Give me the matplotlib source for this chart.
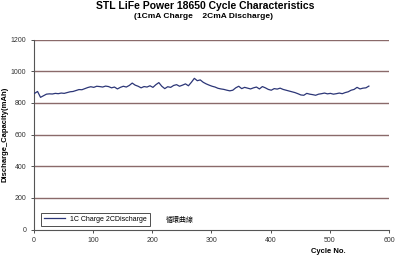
import numpy as np
import matplotlib
matplotlib.use("Agg")
import matplotlib.pyplot as plt

plt.rcParams['font.family'] = ['Liberation Sans', 'Noto Sans CJK TC', 'DejaVu Sans']

# discharge capacity (mAh), one reading every 5 cycles
capacity = [
    860, 872, 835, 845, 855, 857, 856, 860, 858, 862,
    860, 865, 870, 872, 878, 884, 883, 890, 897, 902,
    898, 905, 903, 900, 906, 903, 895, 900, 888, 898,
    905, 900, 910, 925, 912, 905, 895, 903, 900, 908,
    898, 915, 928, 905, 890, 902, 898, 910, 915, 905,
    912, 920, 908, 930, 955, 940, 945, 930, 920, 912,
    905, 900, 892, 888, 885, 880, 876, 880, 895, 905,
    890, 898, 893, 888, 895, 900, 888, 903, 895, 885,
    880, 890, 887, 893, 885, 880, 875, 870, 865, 858,
    850, 848, 860, 855, 852, 848, 855, 858, 862, 857,
    860, 855, 858, 862, 858, 865, 870, 880, 885, 898,
    888, 893, 895, 906,
]
cycles = np.arange(len(capacity)) * 5 + 1

y_ticks = [0, 200, 400, 600, 800, 1000, 1200]
x_ticks = [0, 100, 200, 300, 400, 500, 600]

fig = plt.figure(figsize=(4, 2.56), dpi=100)
ax = fig.add_axes([0.085, 0.1035, 0.8875, 0.742])

for v in y_ticks[1:]:
    ax.axhline(v, color='#8a6a6a', lw=1.0, zorder=1)

ax.plot(cycles, capacity, color='#2c3677', lw=0.9, zorder=3,
        label='1C Charge 2CDischarge')

ax.set_xlim(0, 600)
ax.set_ylim(0, 1200)
ax.set_xticks(x_ticks)
ax.set_yticks(y_ticks)
ax.tick_params(labelsize=5, length=2, width=0.6, colors='#333333')
for s in ['top', 'right']:
    ax.spines[s].set_visible(False)
for s in ['left', 'bottom']:
    ax.spines[s].set_color('#555555')
    ax.spines[s].set_linewidth(0.8)

ax.set_ylabel('Discharge_Capacity(mAh)', fontsize=5.5, fontweight='bold')
ax.yaxis.set_label_coords(-0.072, 0.5)
ax.text(0.83, -0.1, 'Cycle No.', transform=ax.transAxes, fontsize=5.5,
        fontweight='bold', ha='center', va='top')

leg = ax.legend(loc='lower left', bbox_to_anchor=(0.02, 0.02), fontsize=5,
                frameon=True, fancybox=False, edgecolor='#222222',
                handlelength=3, borderpad=0.4, borderaxespad=0)
leg.get_frame().set_linewidth(0.7)
ax.text(0.372, 0.05, '循環曲線', transform=ax.transAxes, fontsize=5,
        family=['Noto Sans CJK TC', 'DejaVu Sans'], va='center')

fig.text(0.512, 0.978, 'STL LiFe Power 18650 Cycle Characteristics',
         ha='center', va='center', fontsize=7.5, fontweight='bold')
fig.text(0.51, 0.935, '(1CmA Charge    2CmA Discharge)',
         ha='center', va='center', fontsize=6, fontweight='bold')

fig.savefig('out.png', dpi=100)
